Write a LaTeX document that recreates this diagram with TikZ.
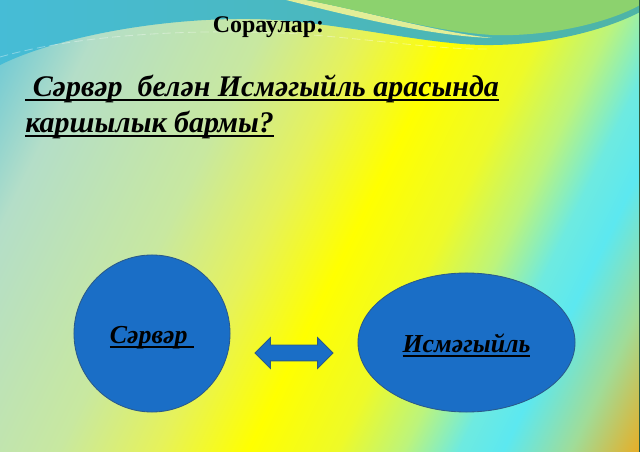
\documentclass[tikz,border=0pt]{standalone}
\usepackage{fontspec}
\setmainfont{Liberation Serif}
\usetikzlibrary{positioning, shapes.geometric, shapes.arrows}
\definecolor{bgA}{HTML}{5EC4D8}
\definecolor{bgB}{HTML}{B4DEC8}
\definecolor{bgC}{HTML}{C8E8A0}
\definecolor{bgD}{HTML}{E6F25A}
\definecolor{bgE}{HTML}{FFFF00}
\definecolor{bgF}{HTML}{EEFA28}
\definecolor{bgG}{HTML}{BCF47C}
\definecolor{bgH}{HTML}{6EEAE0}
\definecolor{bgI}{HTML}{5CE8F0}
\definecolor{bgJ}{HTML}{A0DC98}
\definecolor{bgK}{HTML}{F0A818}
\definecolor{swooshcyan}{HTML}{46BCD6}
\definecolor{swooshteal}{HTML}{4EB4A6}
\definecolor{swooshgreen}{HTML}{8CD26E}
\definecolor{swooshlight}{HTML}{E2EE98}
\definecolor{ovalblue}{HTML}{1A6EC6}
\definecolor{ovaledge}{HTML}{2A5A8A}
\definecolor{frameline}{HTML}{2E5E40}
\pgfdeclarehorizontalshading{slidebg}{100bp}{color(0bp)=(bgA); color(25bp)=(bgA);
  color(31.25bp)=(bgB); color(40.6bp)=(bgC); color(46.25bp)=(bgD); color(51.25bp)=(bgE);
  color(56.25bp)=(bgF); color(60bp)=(bgG); color(63.1bp)=(bgH); color(65.6bp)=(bgI);
  color(69.4bp)=(bgJ); color(73.75bp)=(bgK); color(100bp)=(bgK)}
% thick underline close to the baseline
\newcommand{\ulword}[1]{\setbox0\hbox{#1}\rlap{\rule[-3pt]{\wd0}{1.4pt}}\box0}

\begin{document}
\begin{tikzpicture}[x=0.025cm, y=-0.025cm,
        heading/.style={anchor=base, inner sep=0pt, font=\fontsize{17}{20}\selectfont\bfseries},
        question/.style={anchor=base west, inner sep=0pt, font=\fontsize{21.3}{25}\selectfont\bfseries\itshape},
        person/.style={ellipse, draw=ovaledge, fill=ovalblue, line width=0.6pt, text height=19.5pt, text depth=4.6pt,
          font=\fontsize{18.4}{22}\selectfont\bfseries\itshape}]
      \useasboundingbox (0,0) rectangle (640,452);

      % background with the swooshes on top
      \begin{scope}
        \clip (0,0) rectangle (640,452);
        \begin{scope}[transform canvas={rotate=-26}]
          \shade[shading=slidebg] (0,-300) rectangle (800,420);
        \end{scope}
        \shade[left color=swooshcyan, right color=swooshteal] (0,0) -- (0,65) .. controls (50,40) and (150,18) .. (250,19)
          .. controls (330,20) and (420,44) .. (483,45) .. controls (550,46) and (610,28) .. (640,12) -- (640,0) -- cycle;
        \fill[swooshlight] (286,0) .. controls (350,16) and (430,36) .. (492,38) .. controls (430,31) and (370,12) .. (306,0) -- cycle;
        \fill[swooshgreen] (306,0) .. controls (370,12) and (430,31) .. (492,35) .. controls (550,37) and (610,22) .. (640,5) -- (640,0) -- cycle;
        \draw[white, opacity=0.35, line width=0.6pt, dash pattern=on 6pt off 3pt] (0,57) .. controls (80,34) and (200,28) .. (300,34)
          .. controls (380,40) and (440,50) .. (490,49);
      \end{scope}
      \draw[frameline, line width=0.8pt] (639.4,0) -- (639.4,452);

      \node[heading] (title) at (268.5,33) {Сораулар:};
      \node[question] (ask1) at (25,97) {\ulword{\ Сәрвәр\ \ белән Исмәгыйль арасында}};
      \node[question] (ask2) at (25,133) {\ulword{каршылык бармы?}};

      \node[person, minimum width=3.9cm, minimum height=3.925cm] (sarvar) at (152,333.5) {\ulword{Сәрвәр\ }};
      \node[person, minimum width=5.425cm, minimum height=3.475cm] (ismagyil) at (466.5,342.5) {\ulword{Исмәгыйль}};

      \node[double arrow, draw=ovaledge, fill=ovalblue, line width=0.6pt, inner xsep=0pt, inner ysep=0.1875cm,
        minimum height=1.95cm, double arrow head extend=0.1875cm] (link) at (294,353) {};
    \end{tikzpicture}
\end{document}
